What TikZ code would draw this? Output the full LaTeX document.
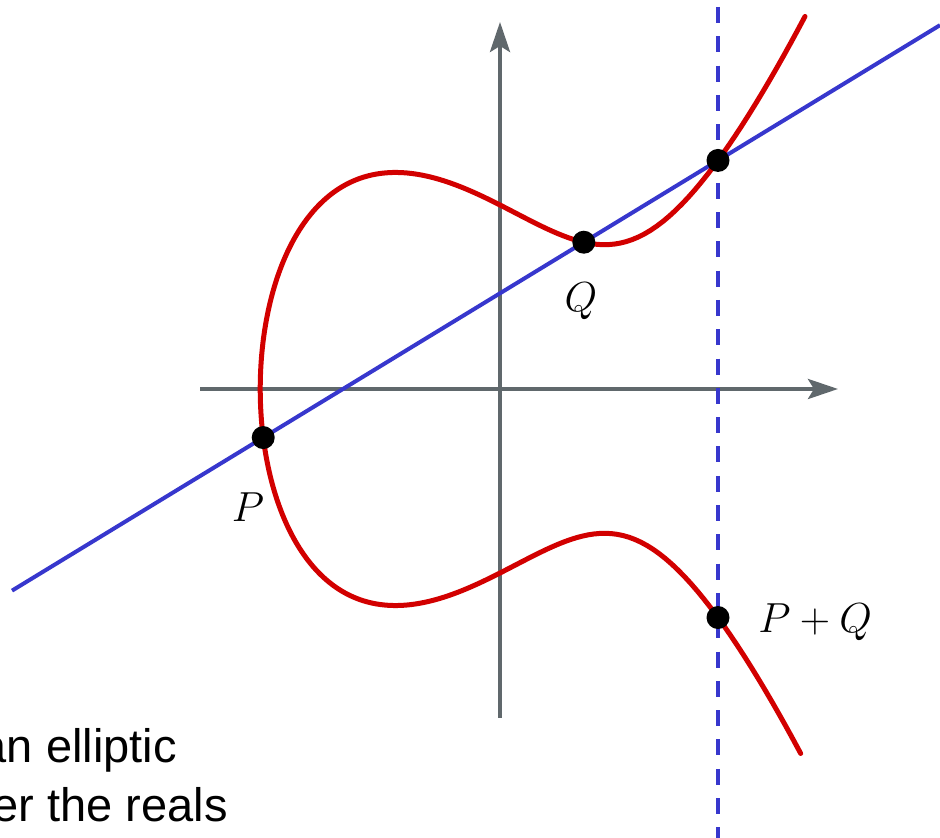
\documentclass[tikz,border=0pt]{standalone}
\usepackage{fontspec}
\newfontfamily\captionfont{Liberation Sans}
\usetikzlibrary{arrows.meta}
\definecolor{curvered}{RGB}{210,0,0}
\definecolor{lineblue}{RGB}{55,55,205}
\definecolor{axisgray}{RGB}{96,104,108}
\tikzset{
  axisline/.style={draw=axisgray, line width=4pt, -{Stealth[length=30pt,width=20pt,inset=6pt]}},
  curveline/.style={draw=curvered, line width=5pt, line cap=round},
  secant/.style={draw=lineblue, line width=4pt},
  vdash/.style={draw=lineblue, line width=4.5pt, dash pattern=on 16pt off 13.3pt},
  ptdot/.style={circle, fill=black, minimum size=23pt, inner sep=0pt},
  ptlabel/.style={inner sep=0pt, font=\Huge, scale=1.688},
  captext/.style={inner sep=0pt, anchor=base east, font=\captionfont\fontsize{47}{56}\selectfont}
}
\begin{document}
\begin{tikzpicture}[x=1pt,y=1pt]
\useasboundingbox (0,0) rectangle (940,838);
\clip (0,0) rectangle (940,838);
% axes
\coordinate (xl) at (200,449);
\coordinate (xr) at (838,449);
\coordinate (yb) at (500,120);
\coordinate (yt) at (500,816);
\draw[axisline] (xl) -- (xr);
\draw[axisline] (yb) -- (yt);
\begin{scope}[shift={(500,449)}, x=181pt, y=184pt]
  \coordinate (P) at (-1.3082,-0.2640);
  \coordinate (Q) at (0.4631,0.7977);
  \coordinate (R) at (1.2044,1.2421);
  \coordinate (S) at (1.2044,-1.2421);
  \coordinate (L) at (-2.696,-1.0959);
  \coordinate (Rt) at (2.431,1.9773);
  % secant and vertical dashed line
  \draw[secant] (L) -- (Rt);
  \coordinate (Dtop) at (1.2044,2.0761);
  \coordinate (Dbot) at (1.2044,-2.50);
  \draw[vdash] (Dtop) -- (Dbot);
  % elliptic curve y^2 = x^3 - x + 1, parametrised x = r + t^2
  \draw[curveline] plot[domain=-1.728:1.738, samples=300, variable=\t]
    ({-1.324718+\t*\t}, {\t*sqrt(4.26463-3.97415*\t*\t+\t*\t*\t*\t)});
  % points
  \node[ptdot] (dP) at (P) {};
  \node[ptdot] (dQ) at (Q) {};
  \node[ptdot] (dR) at (R) {};
  \node[ptdot] (dS) at (S) {};
\end{scope}
% labels
\node[ptlabel, anchor=base] (lP) at (248,316) {$P$};
\node[ptlabel, anchor=base] (lQ) at (581,526) {$Q$};
\node[ptlabel, anchor=base west] (lS) at (758,205) {$P+Q$};
% caption (cut by the left edge, as in the reference)
\node[captext] (c1) at (177,75) {an elliptic};
\node[captext] (c2) at (228,16) {over the reals};
\end{tikzpicture}
\end{document}
